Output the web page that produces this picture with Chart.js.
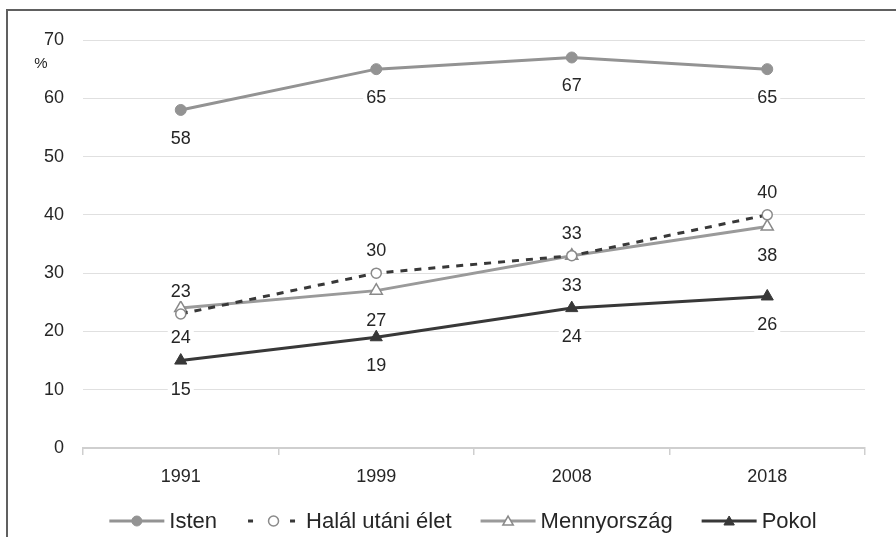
<!DOCTYPE html>
<html>
<head>
<meta charset="utf-8">
<script src="https://cdn.jsdelivr.net/npm/chart.js@4.4.0/dist/chart.umd.min.js"></script>
<style>
html,body{margin:0;padding:0;background:#fff;}
#wrap{width:896px;height:537px;position:relative;}
</style>
</head>
<body>
<div id="wrap"><canvas id="c"></canvas></div>
<script>
// ---- data ----
const years = ['1991', '1999', '2008', '2018'];
const isten = [58, 65, 67, 65];
const halal = [23, 30, 33, 40];
const mennyorszag = [24, 27, 33, 38];
const pokol = [15, 19, 24, 26];
const seriesNames = ['Isten', 'Halál utáni élet', 'Mennyország', 'Pokol'];
const yTicks = [0, 10, 20, 30, 40, 50, 60, 70];
const unitLabel = '%';

const FONT = '"Liberation Sans", Arial, sans-serif';
const TXT = '#262626';

function drawMarker(ctx, style, x, y, r, fill, stroke, bw) {
  ctx.save();
  ctx.setLineDash([]);
  ctx.beginPath();
  if (style === 'triangle') {
    ctx.moveTo(x, y - r);
    ctx.lineTo(x + r * Math.sin(Math.PI / 3), y + r * 0.5);
    ctx.lineTo(x - r * Math.sin(Math.PI / 3), y + r * 0.5);
    ctx.closePath();
  } else {
    ctx.arc(x, y, r, 0, Math.PI * 2);
  }
  ctx.fillStyle = fill;
  ctx.fill();
  if (bw > 0) { ctx.lineWidth = bw; ctx.strokeStyle = stroke; ctx.stroke(); }
  ctx.restore();
}

const framePlugin = {
  id: 'frame',
  beforeDraw(chart) {
    const ctx = chart.ctx;
    ctx.save();
    ctx.strokeStyle = '#606060';
    ctx.lineWidth = 2;
    ctx.beginPath();
    ctx.moveTo(7, chart.height + 2);
    ctx.lineTo(7, 10);
    ctx.lineTo(chart.width + 2, 10);
    ctx.stroke();
    ctx.restore();
  }
};

const unitPlugin = {
  id: 'unit',
  afterDraw(chart) {
    const ctx = chart.ctx;
    const ys = chart.scales.y;
    ctx.save();
    ctx.font = '15px ' + FONT;
    ctx.fillStyle = TXT;
    ctx.textAlign = 'center';
    ctx.textBaseline = 'middle';
    ctx.fillText(unitLabel, 41, ys.getPixelForValue(yTicks[yTicks.length - 1]) + 24);
    ctx.restore();
  }
};

const labelPlugin = {
  id: 'valueLabels',
  afterDatasetsDraw(chart) {
    const ctx = chart.ctx;
    ctx.save();
    ctx.font = '18px ' + FONT;
    ctx.textAlign = 'center';
    ctx.textBaseline = 'middle';
    chart.data.datasets.forEach((ds, i) => {
      const meta = chart.getDatasetMeta(i);
      meta.data.forEach((pt, j) => {
        const txt = String(ds.data[j]);
        const x = pt.x, y = pt.y + ds.labelOffset;
        const w = ctx.measureText(txt).width + 6;
        ctx.fillStyle = '#fff';
        ctx.fillRect(x - w / 2, y - 10, w, 20);
        ctx.fillStyle = TXT;
        ctx.fillText(txt, x, y + 1);
      });
    });
    ctx.restore();
  }
};

const legendPlugin = {
  id: 'customLegend',
  afterDraw(chart) {
    const ctx = chart.ctx;
    ctx.save();
    ctx.font = '22px ' + FONT;
    const lineW = 55, gapText = 5, gapItem = 29;
    const items = chart.data.datasets.map(ds => ({ ds, tw: ctx.measureText(ds.label).width }));
    const total = items.reduce((s, it) => s + lineW + gapText + it.tw, 0) + gapItem * (items.length - 1);
    let x = 463 - total / 2;
    const y = 521;
    items.forEach(it => {
      const ds = it.ds;
      ctx.save();
      ctx.strokeStyle = ds.borderColor;
      ctx.lineWidth = 3;
      const dashed = !!ds.legendDash;
      ctx.setLineDash(ds.legendDash || []);
      ctx.beginPath();
      ctx.moveTo(x + (dashed ? 2 : 0), y);
      ctx.lineTo(x + lineW - (dashed ? 4 : 0), y);
      ctx.stroke();
      ctx.restore();
      drawMarker(ctx, ds.pointStyle, x + lineW / 2, y + (ds.pointStyle === 'triangle' ? 1 : 0),
        ds.pointStyle === 'triangle' ? 6 : 5, ds.pointBackgroundColor, ds.pointBorderColor, ds.pointBorderWidth);
      ctx.fillStyle = TXT;
      ctx.textAlign = 'left';
      ctx.textBaseline = 'middle';
      ctx.fillText(ds.label, x + lineW + gapText, y + 1);
      x += lineW + gapText + it.tw + gapItem;
    });
    ctx.restore();
  }
};

new Chart(document.getElementById('c'), {
  type: 'line',
  data: {
    labels: years,
    datasets: [
      { label: seriesNames[0], data: isten, borderColor: '#939393', backgroundColor: '#939393',
        borderWidth: 3, pointStyle: 'circle', pointRadius: 5.5, pointBackgroundColor: '#939393',
        pointBorderColor: '#939393', pointBorderWidth: 1, labelOffset: 28 },
      { label: seriesNames[1], data: halal, borderColor: '#383838', backgroundColor: '#fff',
        borderWidth: 3, borderDash: [7, 7], legendDash: [5, 16], pointStyle: 'circle', pointRadius: 5,
        pointBackgroundColor: '#fff', pointBorderColor: '#8a8a8a', pointBorderWidth: 1.5, labelOffset: -23 },
      { label: seriesNames[2], data: mennyorszag, borderColor: '#9a9a9a', backgroundColor: '#fff',
        borderWidth: 3, pointStyle: 'triangle', pointRadius: 7, pointBackgroundColor: '#fff',
        pointBorderColor: '#8a8a8a', pointBorderWidth: 1.5, labelOffset: 29 },
      { label: seriesNames[3], data: pokol, borderColor: '#383838', backgroundColor: '#383838',
        borderWidth: 3, pointStyle: 'triangle', pointRadius: 7, pointBackgroundColor: '#383838',
        pointBorderColor: '#383838', pointBorderWidth: 1, labelOffset: 28 }
    ]
  },
  options: {
    responsive: true,
    maintainAspectRatio: false,
    animation: false,
    devicePixelRatio: 1,
    layout: { padding: { left: 0, top: 40, right: 31, bottom: 0 } },
    plugins: { legend: { display: false }, tooltip: { enabled: false } },
    elements: { line: { tension: 0 } },
    scales: {
      x: {
        offset: true,
        grid: { drawOnChartArea: false, drawTicks: true, tickLength: 7, color: '#cfcfcf', lineWidth: 1.5, offset: true },
        border: { color: '#cfcfcf', width: 2 },
        ticks: { font: { size: 18, family: FONT }, color: TXT, padding: 11 },
        afterFit(scale) { scale.height = 89; }
      },
      y: {
        min: yTicks[0],
        max: yTicks[yTicks.length - 1],
        afterBuildTicks(scale) { scale.ticks = yTicks.map(v => ({ value: v })); },
        grid: { drawTicks: false, color: '#e0e0e0', lineWidth: 1 },
        border: { display: false },
        ticks: { font: { size: 18, family: FONT }, color: TXT, padding: 19 },
        afterFit(scale) { scale.width = 83; }
      }
    }
  },
  plugins: [framePlugin, labelPlugin, unitPlugin, legendPlugin]
});
</script>
</body>
</html>
